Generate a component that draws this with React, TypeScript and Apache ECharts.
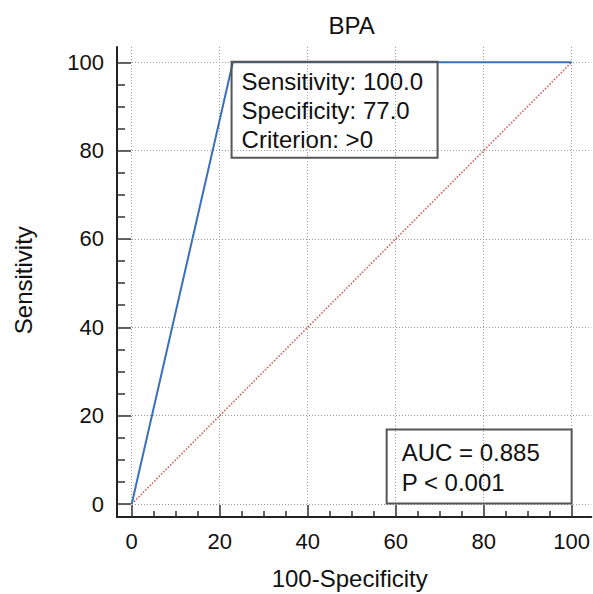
import React, { useEffect, useRef } from 'react';
import * as echarts from 'echarts';

const chartTitle = 'BPA';
const xAxisTitle = '100-Specificity';
const yAxisTitle = 'Sensitivity';
const majorTicks = [0, 20, 40, 60, 80, 100];
const minorTicks = [5, 10, 15, 25, 30, 35, 45, 50, 55, 65, 70, 75, 85, 90, 95];
const rocFpr = [0, 23, 100];
const rocTpr = [0, 100, 100];
const diagX = [0, 100];
const diagY = [0, 100];
const criterionPoint = [23, 100];
const criterionLines = ['Sensitivity: 100.0', 'Specificity: 77.0', 'Criterion: >0'];
const aucLines = ['AUC = 0.885', 'P < 0.001'];

const FONT = 'Arial, "Liberation Sans", Helvetica, sans-serif';
const TEXT = '#111111';

export default function App() {
  const ref = useRef<HTMLDivElement>(null);

  useEffect(() => {
    const el = ref.current;
    if (!el) return;
    const chart = echarts.init(el, null, { renderer: 'svg' });

    const xMin = -3.34, xMax = 104.47, yMin = -2.94, yMax = 103.46;
    const tickStyle = { color: '#333', width: 1.5 };

    const majorAxis = (extra: any) => ({
      type: 'value',
      axisLine: { show: true, onZero: false, lineStyle: { color: '#222', width: 2 } },
      axisTick: { show: true, inside: true, customValues: majorTicks, lineStyle: tickStyle },
      axisLabel: {
        show: true,
        customValues: majorTicks,
        fontSize: 22,
        lineHeight: 22,
        color: TEXT,
        fontFamily: FONT,
      },
      splitLine: { show: true, lineStyle: { color: '#9a9a9a', width: 1, type: [1, 2] } },
      ...extra,
    });
    const minorAxis = (extra: any) => ({
      type: 'value',
      axisLine: { show: false, onZero: false },
      axisTick: { show: true, inside: true, customValues: minorTicks, lineStyle: tickStyle },
      axisLabel: { show: false },
      splitLine: { show: false },
      ...extra,
    });

    chart.setOption({
      animation: false,
      backgroundColor: '#ffffff',
      grid: { left: 117, top: 47, right: 1, bottom: 77, containLabel: false },
      xAxis: [
        majorAxis({
          min: xMin, max: xMax, position: 'bottom',
          axisTick: { show: true, inside: true, length: 12, customValues: majorTicks, lineStyle: tickStyle },
          axisLabel: { show: true, customValues: majorTicks, margin: 13, fontSize: 22, lineHeight: 22, color: TEXT, fontFamily: FONT },
        }),
        minorAxis({
          min: xMin, max: xMax, position: 'bottom',
          axisTick: { show: true, inside: true, length: 6, customValues: minorTicks, lineStyle: tickStyle },
        }),
      ],
      yAxis: [
        majorAxis({
          min: yMin, max: yMax, position: 'left',
          axisTick: { show: true, inside: true, length: 14, customValues: majorTicks, lineStyle: tickStyle },
          axisLabel: { show: true, customValues: majorTicks, margin: 13, fontSize: 22, lineHeight: 22, color: TEXT, fontFamily: FONT },
        }),
        minorAxis({
          min: yMin, max: yMax, position: 'left',
          axisTick: { show: true, inside: true, length: 8, customValues: minorTicks, lineStyle: tickStyle },
        }),
      ],
      series: [
        {
          type: 'line',
          xAxisIndex: 0,
          yAxisIndex: 0,
          data: diagX.map((x, i) => [x, diagY[i]]),
          symbol: 'none',
          lineStyle: { color: '#d06464', width: 1.6, type: [1.6, 1.6] },
          z: 2,
          silent: true,
        },
        {
          type: 'line',
          xAxisIndex: 0,
          yAxisIndex: 0,
          data: rocFpr.map((x, i) => [x, rocTpr[i]]),
          symbol: 'none',
          lineStyle: { color: '#3a70b8', width: 2 },
          z: 3,
          silent: true,
        },
      ],
    });

    const px = (v: number[]) => chart.convertToPixel({ gridIndex: 0 }, v) as number[];
    const center = px([50, 50]);
    const crit = px(criterionPoint);
    const corner = px([100, 0]);

    const b1 = { x: crit[0] - 1.3, y: crit[1] - 0.6, w: 206, h: 96 };
    const b2 = { x: corner[0] - 185, y: corner[1] - 74.5, w: 185, h: 74 };

    chart.setOption({
      graphic: [
        {
          type: 'text', x: center[0], y: 25, z: 10,
          style: { text: chartTitle, font: `24px ${FONT}`, fill: TEXT, textAlign: 'center', textVerticalAlign: 'middle' },
        },
        {
          type: 'text', x: center[0] - 2, y: 578, z: 10,
          style: { text: xAxisTitle, font: `24px ${FONT}`, fill: TEXT, textAlign: 'center', textVerticalAlign: 'middle' },
        },
        {
          type: 'text', x: 23, y: center[1] - 3, rotation: Math.PI / 2, z: 10,
          style: { text: yAxisTitle, font: `24px ${FONT}`, fill: TEXT, textAlign: 'center', textVerticalAlign: 'middle' },
        },
        {
          type: 'rect', z: 10,
          shape: { x: b1.x, y: b1.y, width: b1.w, height: b1.h },
          style: { fill: 'none', stroke: '#555', lineWidth: 2 },
        },
        {
          type: 'text', x: b1.x + 10, y: b1.y + 5.7, z: 10,
          style: { text: criterionLines.join('\n'), font: `24px ${FONT}`, lineHeight: 29, fill: TEXT, textAlign: 'left', textVerticalAlign: 'top' },
        },
        {
          type: 'rect', z: 10,
          shape: { x: b2.x, y: b2.y, width: b2.w, height: b2.h },
          style: { fill: 'none', stroke: '#555', lineWidth: 2 },
        },
        {
          type: 'text', x: b2.x + 15, y: b2.y + 8.1, z: 10,
          style: { text: aucLines.join('\n'), font: `24px ${FONT}`, lineHeight: 29.7, fill: TEXT, textAlign: 'left', textVerticalAlign: 'top' },
        },
      ],
    });

    return () => chart.dispose();
  }, []);

  return (
    <div
      ref={ref}
      style={{ position: 'fixed', left: 0, top: 0, width: 593, height: 594, background: '#fff' }}
    />
  );
}
